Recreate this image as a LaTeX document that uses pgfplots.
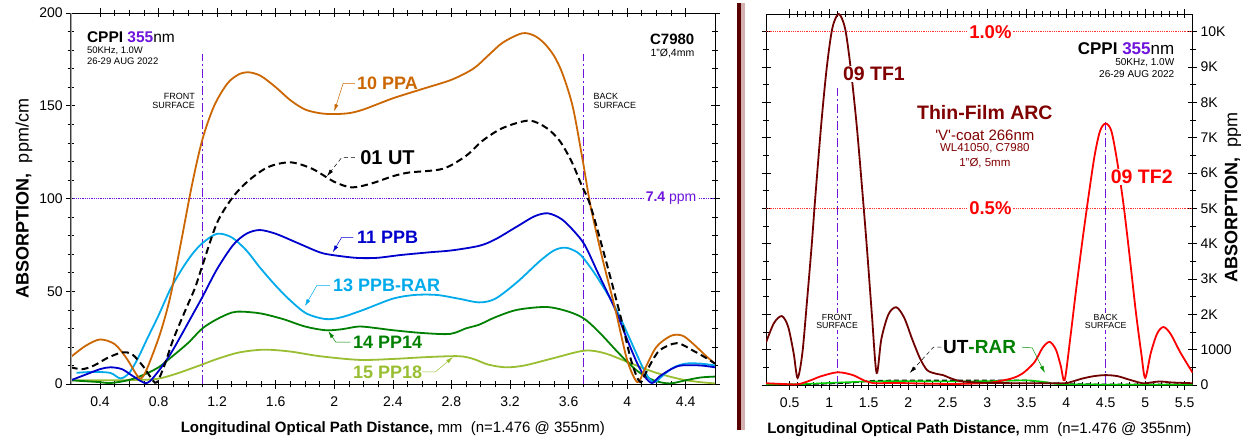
\documentclass[border=0pt]{standalone}
\usepackage{pgfplots}
\pgfplotsset{compat=1.18}
\usepackage{fontspec}
\setmainfont{Liberation Sans}
\usetikzlibrary{arrows.meta}

\definecolor{ppa}{RGB}{204,102,0}
\definecolor{ppb}{RGB}{0,0,204}
\definecolor{rar}{RGB}{0,170,235}
\definecolor{pp14}{RGB}{0,128,0}
\definecolor{pp18}{RGB}{153,190,50}
\definecolor{vio}{RGB}{110,20,220}
\definecolor{tfone}{RGB}{112,0,0}
\definecolor{tftwo}{RGB}{255,0,0}
\definecolor{rargreen}{RGB}{0,210,0}
\definecolor{arc}{RGB}{128,0,0}

\newcommand{\fs}[1]{\fontsize{#1}{#1}\selectfont}

\tikzset{
  surfline/.style={vio, line width=1pt, dash pattern=on 9pt off 3pt on 2pt off 3pt},
  lead/.style={line width=0.5pt, -{Latex[length=7pt,width=4pt]}},
}
\pgfplotsset{
  panel/.style={
    scale only axis, height=371pt, anchor=south west,
    axis line style={black, line width=0.6pt},
    tick align=center,
    major tick length=9pt, minor tick length=6pt,
    every tick/.style={black, line width=0.6pt},
    tick label style={font=\fs{14}},
    xticklabel style={yshift=-5pt},
    /pgf/number format/assume math mode=true,
    xlabel style={font=\fs{15}, yshift=-8pt},
  },
}

\begin{document}
\begin{tikzpicture}
\useasboundingbox (0pt,0pt) rectangle (1250pt,-438pt);

% ---------------- left panel ----------------
\begin{axis}[panel, at={(70.7pt,-384pt)}, width=644.3pt,
  xmin=0.2, xmax=4.6, ymin=0, ymax=200,
  xtick={0.4,0.8,1.2,1.6,2,2.4,2.8,3.2,3.6,4,4.4},
  xticklabels={0.4,0.8,1.2,1.6,2,2.4,2.8,3.2,3.6,4,4.4},
  minor x tick num=3,
  ytick={0,50,100,150,200}, minor y tick num=4,
  xlabel={\textbf{Longitudinal Optical Path Distance,} mm\ \ (n=1.476 @ 355nm)},
  ylabel={\textbf{ABSORPTION,}\ \ ppm/cm},
  ylabel style={font=\fs{18}},
]
\addplot[vio, densely dotted, line width=0.8pt] coordinates {(0.2,100) (4.6,100)};
\addplot[surfline] coordinates {(1.1,0) (1.1,178)};
\addplot[surfline] coordinates {(3.7,0) (3.7,178)};

% 15 PP18
\addplot[pp18, line width=1.8pt, smooth] coordinates {
(0.2,2) (0.47,2) (0.76,2.5) (0.9,5) (1.08,10) (1.2,13.5) (1.35,17) (1.52,18.5) (1.7,17.5)
(1.9,15) (2.17,13) (2.4,13.5) (2.63,14.5) (2.85,15) (2.95,13.5) (3.05,10.5) (3.17,9)
(3.3,10) (3.5,14) (3.71,18) (3.85,16.5) (4.03,11) (4.2,6) (4.37,2.5) (4.5,1) (4.6,0.3)};
% 14 PP14
\addplot[pp14, line width=1.8pt, smooth] coordinates {
(0.2,2) (0.3,1.5) (0.4,1) (0.47,0.5) (0.59,2) (0.7,5) (0.8,9) (0.88,14) (1.0,22) (1.1,30)
(1.2,35) (1.3,38.5) (1.37,39) (1.5,38) (1.65,35) (1.8,31) (1.94,29) (2.05,29.5) (2.17,31)
(2.3,30) (2.4,29) (2.6,27.5) (2.79,27) (2.9,30) (2.99,32) (3.1,36) (3.25,40) (3.45,41.5)
(3.6,39) (3.71,35) (3.82,27) (3.95,16) (4.07,7) (4.18,2) (4.29,0.3) (4.4,2) (4.5,3.5) (4.6,4)};
% 13 PPB-RAR
\addplot[rar, line width=1.8pt, smooth] coordinates {
(0.24,6) (0.35,6.5) (0.47,6) (0.54,3) (0.6,6) (0.66,14) (0.72,24) (0.8,37) (0.88,51)
(0.96,62) (1.03,70) (1.1,76) (1.2,81) (1.3,79) (1.4,72) (1.49,63) (1.6,53) (1.7,45)
(1.81,38) (1.94,35) (2.05,36) (2.2,40) (2.4,46) (2.55,48) (2.7,48) (2.85,46) (2.99,44)
(3.1,46) (3.25,55) (3.4,66) (3.5,72) (3.58,73.5) (3.66,71) (3.71,67) (3.8,57) (3.92,41)
(4.02,24) (4.1,10) (4.15,3) (4.19,1) (4.25,5) (4.32,9) (4.4,11) (4.5,11) (4.6,10)};
% 11 PPB
\addplot[ppb, line width=1.8pt, smooth] coordinates {
(0.2,2) (0.3,5) (0.4,8) (0.47,9) (0.55,8) (0.63,4) (0.72,0.5) (0.8,7) (0.88,16) (0.96,27)
(1.03,37) (1.1,47) (1.2,62) (1.31,75) (1.4,81) (1.49,83) (1.6,81) (1.75,76) (1.9,71)
(1.99,69.5) (2.15,68) (2.29,68) (2.45,69.5) (2.65,71) (2.8,72) (2.99,74.5) (3.1,78)
(3.25,85) (3.37,90.5) (3.46,92) (3.55,89) (3.63,83) (3.71,75) (3.8,60) (3.92,40) (4.0,24)
(4.07,11) (4.12,4) (4.17,0.5) (4.22,4) (4.3,8) (4.37,10) (4.5,10) (4.6,9)};
% 10 PPA
\addplot[ppa, line width=1.8pt, smooth] coordinates {
(0.2,14.5) (0.3,20.5) (0.4,24) (0.5,21.5) (0.58,14) (0.65,5) (0.68,3) (0.72,8) (0.81,27)
(0.88,47) (0.95,75) (1.03,108) (1.1,132) (1.18,150) (1.27,162) (1.35,167) (1.42,168)
(1.5,166) (1.6,160) (1.7,153) (1.8,148) (1.9,146) (1.99,145.5) (2.1,146) (2.2,148)
(2.4,154) (2.6,159) (2.8,164) (2.95,170) (3.05,177) (3.15,184) (3.28,189) (3.36,188)
(3.43,184) (3.5,177) (3.56,167) (3.63,149) (3.70,119) (3.75,96) (3.83,68) (3.92,40)
(4.0,13) (4.07,1) (4.12,8) (4.2,20) (4.3,26) (4.38,26) (4.46,21) (4.54,15) (4.6,11)};
% 01 UT
\addplot[black, line width=2pt, dash pattern=on 7pt off 4pt, smooth] coordinates {
(0.2,9) (0.28,8) (0.36,10) (0.45,14) (0.55,17) (0.62,16) (0.7,9) (0.76,2) (0.79,1)
(0.84,10) (0.9,24) (0.99,41) (1.05,52) (1.1,64) (1.2,87) (1.31,101) (1.42,110) (1.55,117)
(1.7,119.5) (1.85,116) (2.0,109) (2.12,106) (2.25,108) (2.4,112) (2.51,114) (2.74,116)
(2.9,123) (3.01,131) (3.15,138) (3.33,142) (3.45,138) (3.54,131) (3.62,120) (3.69,107)
(3.75,96) (3.85,68) (3.95,38) (4.03,12) (4.09,1) (4.14,8) (4.22,18) (4.34,22) (4.45,18)
(4.54,14) (4.6,11)};

\draw[gray!70, line width=1.8pt] (rel axis cs:0,0) -- (rel axis cs:0,1);

% annotations
\node[font=\fs{15.5}, anchor=west, inner sep=0pt] at (axis cs:0.31,187) {\bfseries CPPI \textcolor{vio}{355}\mdseries nm};
\node[font=\fs{9.5}, anchor=west, inner sep=0pt] at (axis cs:0.31,179.5) {50KHz, 1.0W};
\node[font=\fs{9.5}, anchor=west, inner sep=0pt] at (axis cs:0.31,174) {26-29 AUG 2022};
\node[font=\fs{15}, anchor=east, inner sep=0pt] at (axis cs:4.46,186) {\bfseries C7980};
\node[font=\fs{10.5}, anchor=east, inner sep=0pt] at (axis cs:4.46,178) {1"Ø,4mm};
\node[font=\fs{9}, anchor=east, align=right, inner sep=0pt] at (axis cs:1.05,152.5) {FRONT\\SURFACE};
\node[font=\fs{9}, anchor=west, align=left, inner sep=0pt] at (axis cs:3.77,152.5) {BACK\\SURFACE};
\node[font=\fs{14}, fill=white, text=vio, inner sep=2pt] at (axis cs:4.3,100) {\textbf{7.4} ppm};

\node[font=\fs{18}\bfseries, text=ppa, anchor=west, inner sep=0pt] at (axis cs:2.155,162) {10 PPA};
\draw[ppa, lead] (axis cs:2.14,162) -- (axis cs:2.06,162) -- (axis cs:2.0,147);
\node[font=\fs{20}\bfseries, anchor=west, inner sep=0pt] at (axis cs:2.176,122) {01 UT};
\draw[black, lead, dash pattern=on 4pt off 3pt] (axis cs:2.14,122) -- (axis cs:2.05,122) -- (axis cs:1.95,112);
\node[font=\fs{18}\bfseries, text=ppb, anchor=west, inner sep=0pt] at (axis cs:2.155,79) {11 PPB};
\draw[ppb, lead] (axis cs:2.13,79) -- (axis cs:2.05,79) -- (axis cs:1.99,71);
\node[font=\fs{18}\bfseries, text=rar, anchor=west, inner sep=0pt] at (axis cs:1.99,53) {13 PPB-RAR};
\draw[rar, lead] (axis cs:1.97,53) -- (axis cs:1.88,53) -- (axis cs:1.8,42);
\node[font=\fs{18}\bfseries, text=pp14, anchor=west, inner sep=0pt] at (axis cs:2.128,22.6) {14 PP14};
\draw[pp14, lead] (axis cs:2.11,22.6) -- (axis cs:2.01,22.6) -- (axis cs:1.96,28.5);
\node[font=\fs{18}\bfseries, text=pp18, anchor=west, inner sep=0pt] at (axis cs:2.128,6.5) {15 PP18};
\draw[pp18, lead] (axis cs:2.6,6.5) -- (axis cs:2.69,6.5) -- (axis cs:2.81,14.5);
\end{axis}

% ---------------- right panel ----------------
\begin{axis}[panel, at={(766pt,-385pt)}, width=426.6pt,
  xmin=0.2, xmax=5.6, ymin=0, ymax=10500,
  xtick={0.5,1,1.5,2,2.5,3,3.5,4,4.5,5,5.5},
  xticklabels={0.5,1,1.5,2,2.5,3,3.5,4,4.5,5,5.5},
  minor x tick num=4,
  ytick={0,1000,2000,3000,4000,5000,6000,7000,8000,9000,10000},
  yticklabels={0,1000,2K,3K,4K,5K,6K,7K,8K,9K,10K},
  minor y tick num=1, scaled y ticks=false,
  yticklabel pos=right,
  xlabel={\textbf{Longitudinal Optical Path Distance,} mm\ \ (n=1.476 @ 355nm)},
  ylabel={\textbf{ABSORPTION,}\ \ ppm},
  ylabel style={font=\fs{18}, at={(rel axis cs:1.0947,0.505)}, anchor=center},
  ylabel shift=0pt,
]
\addplot[red!80, densely dotted, line width=0.8pt] coordinates {(0.2,10000) (5.6,10000)};
\addplot[red!80, densely dotted, line width=0.8pt] coordinates {(0.2,5000) (5.6,5000)};
\addplot[surfline] coordinates {(1.1,0) (1.1,8400)};
\addplot[surfline] coordinates {(4.5,0) (4.5,7450)};

% UT
\addplot[black, line width=1.5pt, dash pattern=on 5pt off 3pt, smooth] coordinates {
(0.2,30) (0.6,20) (1.0,40) (1.3,70) (1.55,120) (2.0,130) (2.5,130) (3.0,130) (3.5,130)
(3.7,80) (4.0,30) (4.5,20) (5.0,20) (5.6,20)};
% RAR
\addplot[rargreen, line width=1.5pt, smooth] coordinates {
(0.2,20) (0.6,20) (1.0,60) (1.5,100) (2.0,110) (2.5,100) (3.0,110) (3.5,130) (3.75,80)
(4.0,20) (5.6,10)};
% 09 TF2
\addplot[tftwo, line width=1.8pt, smooth] coordinates {
(0.2,50) (0.4,30) (0.6,20) (0.75,120) (0.9,250) (1.11,360) (1.3,280) (1.45,120) (1.58,50)
(1.8,60) (2.2,40) (2.6,30) (3.0,60) (3.2,130) (3.33,200) (3.45,330) (3.6,650) (3.7,1050)
(3.79,1220) (3.87,1000) (3.93,550) (3.98,140) (4.05,1300) (4.12,2600) (4.2,4000)
(4.28,5300) (4.36,6500) (4.43,7200) (4.5,7400) (4.57,7200) (4.64,6400) (4.72,5200)
(4.8,3700) (4.88,2100) (4.95,900) (5.0,200) (5.07,900) (5.15,1450) (5.23,1640) (5.32,1450)
(5.45,900) (5.6,350)};
% 09 TF1
\addplot[tfone, line width=1.8pt, smooth] coordinates {
(0.2,1200) (0.3,1750) (0.4,1950) (0.48,1650) (0.55,900) (0.6,200) (0.66,900) (0.72,2400)
(0.78,4000) (0.82,5200) (0.9,7400) (0.97,9000) (1.04,10100) (1.12,10500) (1.2,10100)
(1.27,9000) (1.35,7300) (1.43,5200) (1.48,3800) (1.54,2000) (1.6,340) (1.66,1300)
(1.75,2000) (1.85,2200) (1.95,1900) (2.05,1300) (2.15,750) (2.24,420) (2.35,320)
(2.44,280) (2.55,180) (2.69,100) (3.0,60) (3.5,50) (3.96,50) (4.05,80) (4.2,180)
(4.35,250) (4.5,280) (4.65,250) (4.8,150) (4.97,50) (5.1,80) (5.19,100) (5.35,70) (5.6,50)};

% annotations
\node[font=\fs{18.5}\bfseries, text=red, fill=white, inner sep=2pt] at (axis cs:3.04,10000) {1.0\%};
\node[font=\fs{18.5}\bfseries, text=red, fill=white, inner sep=2pt] at (axis cs:3.04,5000) {0.5\%};
\node[font=\fs{8.8}, fill=white, align=center, inner sep=1pt] at (axis cs:1.1,1800) {FRONT\\SURFACE};
\node[font=\fs{8.8}, fill=white, align=center, inner sep=1pt] at (axis cs:4.5,1800) {BACK\\SURFACE};
\node[font=\fs{19.5}\bfseries, text=arc, fill=white, anchor=west, inner sep=1pt] at (axis cs:1.16,8800) {09 TF1};
\node[font=\fs{19.5}\bfseries, text=red, fill=white, anchor=west, inner sep=1pt] at (axis cs:4.55,5880) {09 TF2};
\node[font=\fs{19.5}\bfseries, text=arc, inner sep=0pt] at (axis cs:2.97,7700) {Thin-Film ARC};
\node[font=\fs{15}, text=arc, inner sep=0pt] at (axis cs:2.97,7060) {\textquotesingle V\textquotesingle-coat 266nm};
\node[font=\fs{11.5}, text=arc, inner sep=0pt] at (axis cs:2.97,6700) {WL41050, C7980};
\node[font=\fs{11.5}, text=arc, inner sep=0pt] at (axis cs:2.97,6270) {1"Ø, 5mm};
\node[font=\fs{17}, anchor=east, inner sep=0pt] at (axis cs:5.37,9520) {\bfseries CPPI \textcolor{vio}{355}\mdseries nm};
\node[font=\fs{10}, anchor=east, inner sep=0pt] at (axis cs:5.37,9120) {50KHz, 1.0W};
\node[font=\fs{10}, anchor=east, inner sep=0pt] at (axis cs:5.37,8800) {26-29 AUG 2022};
\node[font=\fs{19}\bfseries, anchor=west, inner sep=0pt] at (axis cs:2.44,1070) {UT\textcolor{pp14}{-RAR}};
\draw[black, lead, dash pattern=on 4pt off 3pt] (axis cs:2.42,1070) -- (axis cs:2.32,1070) -- (axis cs:2.02,340);
\draw[rargreen!70!black, lead] (axis cs:3.44,1070) -- (axis cs:3.57,1050) -- (axis cs:3.73,340);
\end{axis}

% separator
\fill[tfone!80!black] (737pt,-3pt) rectangle (741pt,-430pt);
\fill[tfone!30!white] (741pt,-3pt) rectangle (745pt,-430pt);
\end{tikzpicture}
\end{document}
